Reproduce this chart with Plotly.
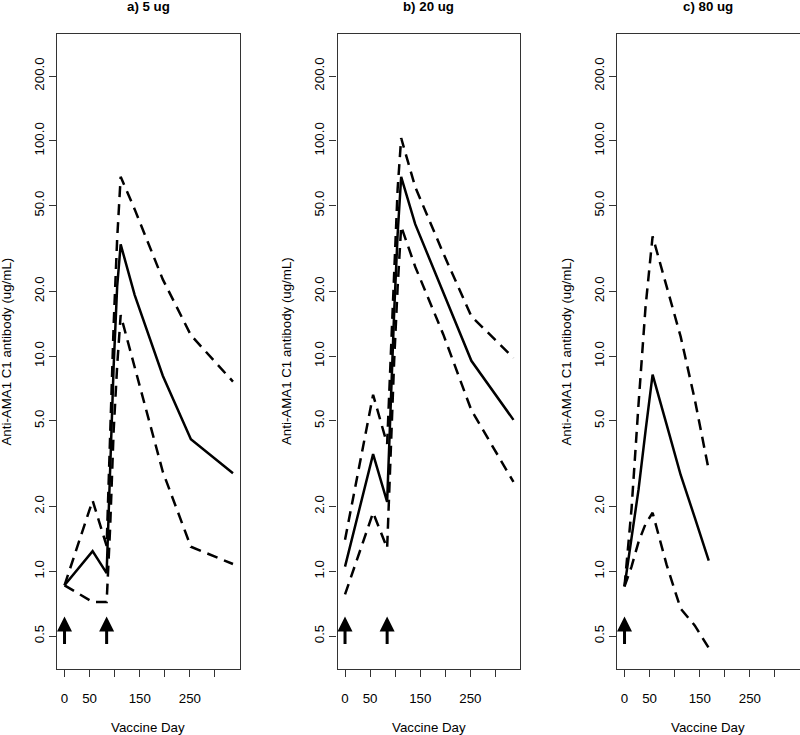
import math
import plotly.graph_objects as go

# ---------------- data ----------------
panel_titles = ["a) 5 ug", "b) 20 ug", "c) 80 ug"]
vaccine_days = [[0, 84], [0, 84], [0]]

days_a = [0, 56, 84, 91, 98, 105, 112, 140, 196, 252, 336]
median_a = [0.86, 1.24, 0.98, 2.9, 9.0, 21.0, 33.0, 19.2, 8.1, 4.1, 2.85]
upper_a = [0.86, 2.13, 1.31, 4.5, 14.0, 35.0, 68.0, 48.0, 22.7, 12.5, 7.6]
lower_a = [0.86, 0.72, 0.72, 1.6, 4.5, 9.0, 15.5, 8.9, 2.9, 1.3, 1.08]

days_b = [0, 56, 84, 91, 98, 105, 112, 140, 196, 252, 336]
median_b = [1.05, 3.5, 2.1, 6.0, 16.0, 37.0, 68.0, 41.0, 19.7, 9.5, 5.05]
upper_b = [1.4, 6.6, 3.9, 10.0, 28.0, 60.0, 103.0, 61.0, 30.0, 15.3, 9.8]
lower_b = [0.78, 1.87, 1.28, 3.5, 9.5, 21.0, 40.0, 26.0, 12.6, 5.6, 2.6]

days_c = [0, 14, 28, 42, 56, 84, 112, 140, 168]
median_c = [0.85, 1.45, 2.4, 4.5, 8.2, 4.8, 2.8, 1.78, 1.12]
upper_c = [0.85, 1.95, 6.0, 17.0, 36.0, 21.0, 12.3, 6.3, 2.95]
lower_c = [0.85, 1.05, 1.37, 1.66, 1.87, 1.07, 0.67, 0.56, 0.44]

x_tickvals = [0, 50, 100, 150, 200, 250, 300]
x_ticktext = ["0", "50", "", "150", "", "250", ""]
y_tickvals = [0.5, 1, 2, 5, 10, 20, 50, 100, 200]
y_ticktext = ["0.5", "1.0", "2.0", "5.0", "10.0", "20.0", "50.0", "100.0", "200.0"]

x_title = "Vaccine Day"
y_title = "Anti-AMA1 C1 antibody (ug/mL)"

panels = [
    (days_a, median_a, upper_a, lower_a),
    (days_b, median_b, upper_b, lower_b),
    (days_c, median_c, upper_c, lower_c),
]

# ---------------- styling ----------------
W, H = 800, 735
M_T, M_B = 34, 66
PLOT_H = H - M_T - M_B
domains_px = [(57, 239.5), (337.5, 520), (617, 799.5)]
FONT = "Liberation Sans, Arial, sans-serif"
FS = 13.3
AX_COLOR = "#333333"
DASH = "11px,7px"
ARROW_TIP, ARROW_BASE = 0.616, 0.452

fig = go.Figure()

def ypix_to_paper(py):
    return (H - M_B - py) / PLOT_H

for i, (d, med, up, lo) in enumerate(panels):
    n = "" if i == 0 else str(i + 1)
    xa, ya = "x" + n, "y" + n
    for vals, dash in ((up, DASH), (lo, DASH), (med, "solid")):
        fig.add_trace(go.Scatter(
            x=d, y=vals, mode="lines", xaxis=xa, yaxis=ya,
            line=dict(color="black", width=2.5, dash=dash),
            showlegend=False, hoverinfo="skip"))
    l, r = domains_px[i]
    fig.layout["xaxis" + n] = dict(
        domain=[l / W, r / W], range=[-15, 349], anchor=ya,
        tickmode="array", tickvals=x_tickvals, ticktext=x_ticktext,
        ticks="outside", ticklen=7, tickwidth=1.3, tickcolor=AX_COLOR,
        ticklabelstandoff=10,
        showline=True, linecolor=AX_COLOR, linewidth=1.3, mirror=True,
        showgrid=False, zeroline=False,
        tickfont=dict(family=FONT, size=FS, color="black"))
    fig.layout["yaxis" + n] = dict(
        type="log", range=[-0.4543, 2.4962], anchor=xa,
        tickmode="array", tickvals=y_tickvals, ticktext=y_ticktext,
        tickangle=-90,
        ticks="outside", ticklen=7, tickwidth=1.3, tickcolor=AX_COLOR,
        showline=True, linecolor=AX_COLOR, linewidth=1.3, mirror=True,
        showgrid=False, zeroline=False,
        tickfont=dict(family=FONT, size=FS, color="black"))
    # panel title
    fig.add_annotation(text="<b>%s</b>" % panel_titles[i], xref=xa + " domain", x=0.5,
                       yref="paper", y=ypix_to_paper(6.5), yanchor="middle",
                       showarrow=False, font=dict(family=FONT, size=FS, color="black"))
    # x axis title
    fig.add_annotation(text=x_title, xref=xa + " domain", x=0.5,
                       yref="paper", y=ypix_to_paper(727.5), yanchor="middle",
                       showarrow=False, font=dict(family=FONT, size=FS, color="black"))
    # y axis title
    fig.add_annotation(text=y_title, xref=xa + " domain", x=-51 / (r - l),
                       yref="paper", y=0.5, xanchor="center", yanchor="middle",
                       textangle=-90, showarrow=False,
                       font=dict(family=FONT, size=FS, color="black"))
    # vaccination arrows
    for vd in vaccine_days[i]:
        fig.add_annotation(x=vd, y=math.log10(ARROW_TIP), xref=xa, yref=ya,
                           ax=vd, ay=math.log10(ARROW_BASE), axref=xa, ayref=ya,
                           text="", showarrow=True, arrowhead=2, arrowsize=1,
                           arrowwidth=3, arrowcolor="black", standoff=0)

fig.update_layout(width=W, height=H, margin=dict(l=0, r=0, t=M_T, b=M_B),
                  paper_bgcolor="white", plot_bgcolor="white",
                  font=dict(family=FONT, size=FS, color="black"))
fig.write_html("out.html", config={"displayModeBar": False},
               post_script="document.body.style.margin='0';document.body.style.overflow='hidden';")
